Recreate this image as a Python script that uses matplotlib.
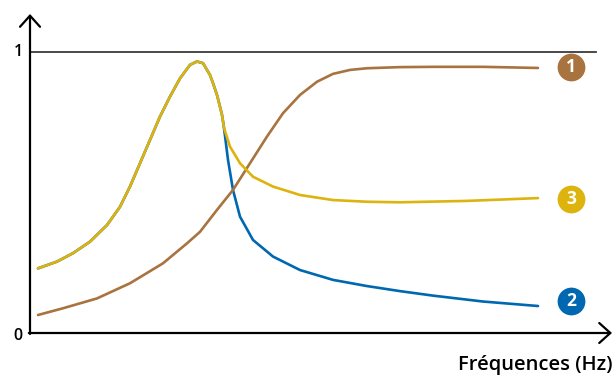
import matplotlib
matplotlib.use("Agg")
import matplotlib.pyplot as plt

# fréquence (unités arbitraires) et amplitude relative
freq_jaune = [8, 27, 43, 60, 77, 90, 100, 110, 120, 130, 140, 150, 160, 167, 173, 180,
              183, 187, 190, 192, 194, 200, 210, 223, 243, 270, 303, 337, 370, 437, 508]
ampl_jaune = [0.230, 0.254, 0.284, 0.325, 0.384, 0.449, 0.521, 0.604, 0.687, 0.770, 0.841,
              0.906, 0.954, 0.966, 0.960, 0.918, 0.889, 0.847, 0.805, 0.776, 0.730, 0.663,
              0.604, 0.556, 0.521, 0.491, 0.473, 0.467, 0.465, 0.470, 0.480]

freq_bleu = [8, 27, 43, 60, 77, 90, 100, 110, 120, 130, 140, 150, 160, 167, 173, 180,
             183, 187, 190, 192, 194, 198, 203, 210, 223, 243, 270, 303, 337, 370, 403, 453, 508]
ampl_bleu = [0.230, 0.254, 0.284, 0.325, 0.384, 0.449, 0.521, 0.604, 0.687, 0.770, 0.841,
             0.906, 0.954, 0.966, 0.960, 0.918, 0.889, 0.847, 0.805, 0.776, 0.730, 0.616,
             0.509, 0.414, 0.331, 0.272, 0.224, 0.189, 0.167, 0.149, 0.133, 0.112, 0.096]

freq_marron = [8, 33, 67, 100, 133, 157, 170, 187, 203, 220, 237, 253, 270, 287, 303, 320,
               337, 370, 403, 453, 508]
ampl_marron = [0.064, 0.088, 0.123, 0.177, 0.248, 0.319, 0.360, 0.438, 0.509, 0.604, 0.699,
               0.782, 0.847, 0.894, 0.922, 0.936, 0.942, 0.946, 0.947, 0.947, 0.943]

# numéros des courbes
etiquettes = ["1", "3", "2"]
etiq_y = [0.947, 0.477, 0.114]

marron = "#A8733F"
jaune = "#DDB30E"
bleu = "#0068B1"
couleurs = [marron, jaune, bleu]

plt.rcParams['font.family'] = ['Open Sans', 'DejaVu Sans']

fig = plt.figure(figsize=(6.15, 3.76), dpi=100)
ax = fig.add_axes([30 / 615, 43 / 376, 582 / 615, 319 / 376])
ax.set_xlim(0, 582)
ax.set_ylim(0, 1.135)
for s in ax.spines.values():
    s.set_visible(False)
ax.set_xticks([])
ax.set_yticks([])

# ligne y = 1
ax.axhline(1.0, xmin=0, xmax=566 / 582, color="#3a3a3a", lw=1.3, zorder=1)

kw = dict(lw=1.9, solid_capstyle="round", solid_joinstyle="round")
ax.plot(freq_bleu, ampl_bleu, color=bleu, zorder=2, **kw)
ax.plot(freq_marron, ampl_marron, color=marron, zorder=3, **kw)
ax.plot(freq_jaune, ampl_jaune, color=jaune, zorder=4, **kw)

# axes fléchés
style = dict(arrowstyle="->,head_length=0.4,head_width=0.36", lw=1.6, color="black",
             mutation_scale=20, shrinkA=0, shrinkB=0)
ax.annotate("", xy=(0, 1), xytext=(0, -0.003), xycoords="axes fraction", arrowprops=style)
ax.annotate("", xy=(1, 0), xytext=(-0.002, 0), xycoords="axes fraction", arrowprops=style)

ax.text(-12, 1.0, "1", ha="center", va="center", fontsize=11.5, fontweight="semibold")
ax.text(-12, -0.012, "0", ha="center", va="center", fontsize=11.5, fontweight="semibold",
        clip_on=False)

for lab, yy, c in zip(etiquettes, etiq_y, couleurs):
    ax.plot(541, yy, "o", ms=20, color=c, mec="none", clip_on=False, zorder=5)
    ax.text(541, yy, lab, ha="center", va="center", color="white", fontsize=12.5,
            fontweight="bold", zorder=6)

ax.text(1.0, -0.1, "Fréquences (Hz)", transform=ax.transAxes, ha="right", va="center",
        fontsize=14.5, fontweight="semibold")

fig.savefig("out.png", dpi=100)
